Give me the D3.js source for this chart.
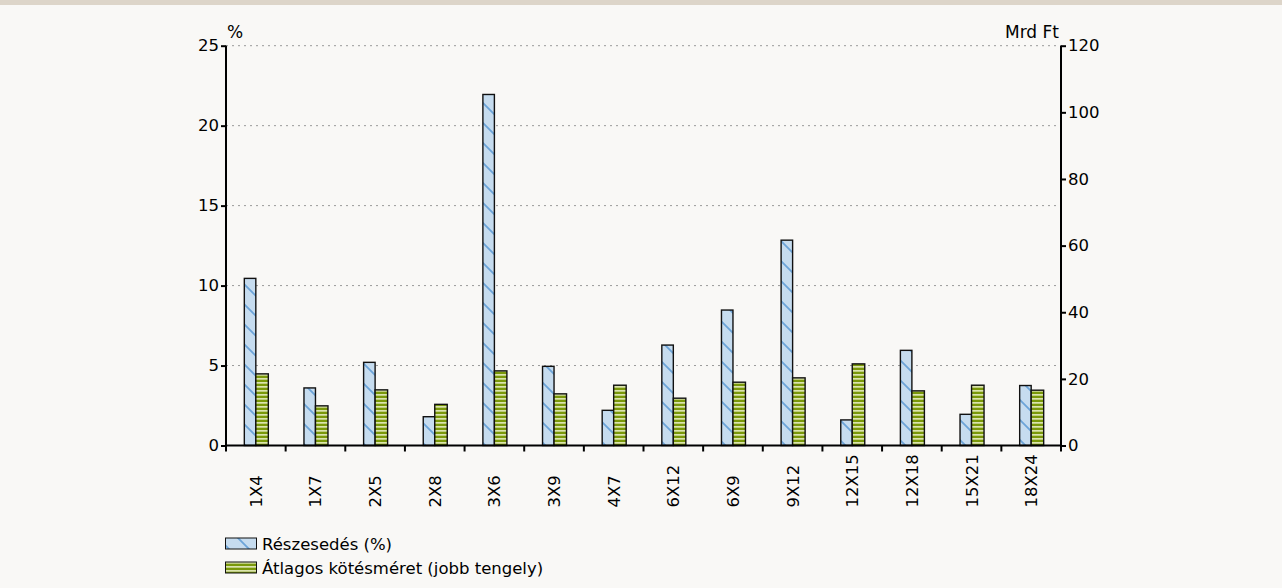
<!DOCTYPE html>
<html><head><meta charset="utf-8">
<script src="https://cdn.jsdelivr.net/npm/d3@7"></script>
<style>
html,body{margin:0;padding:0;background:#f9f8f6;}
svg{display:block;font-family:"DejaVu Sans",Verdana,sans-serif;}
</style></head>
<body>
<svg id="c" width="1282" height="588"></svg>
<script>
const categories = ["1X4","1X7","2X5","2X8","3X6","3X9","4X7","6X12","6X9","9X12","12X15","12X18","15X21","18X24"];
const shareValues = [10.45,3.6,5.2,1.8,21.95,4.95,2.2,6.28,8.47,12.84,1.6,5.95,1.95,3.75];
const sizeValues = [21.5,11.9,16.7,12.35,22.4,15.5,18.1,14.2,19.0,20.3,24.5,16.4,18.1,16.6];
const leftTicks = [0,5,10,15,20,25];
const rightTicks = [0,20,40,60,80,100,120];
const seriesNames = ["Részesedés (%)","Átlagos kötésméret (jobb tengely)"];
const leftUnit = "%";
const rightUnit = "Mrd Ft";

const svg = d3.select("#c");
const W = 1282, H = 588;
svg.append("rect").attr("width",W).attr("height",H).attr("fill","#f9f8f6");
svg.append("rect").attr("width",W).attr("height",5).attr("fill","#ddd5c9");

const defs = svg.append("defs");
const pb = defs.append("pattern").attr("id","pBlue").attr("patternUnits","userSpaceOnUse")
  .attr("width",20).attr("height",20);
pb.append("rect").attr("width",20).attr("height",20).attr("fill","#c6dcef");
pb.append("path").attr("d","M-5,-5 L25,25 M-5,15 L5,25 M15,-5 L25,5").attr("stroke","#6ca4d8").attr("stroke-width",1.8);
const pg = defs.append("pattern").attr("id","pGreen").attr("patternUnits","userSpaceOnUse")
  .attr("width",8).attr("height",4);
pg.append("rect").attr("width",8).attr("height",4).attr("fill","#7a980a");
pg.append("rect").attr("y",2).attr("width",8).attr("height",1.7).attr("fill","#dbe4ae");

const x0 = 226, x1 = 1061, yTop = 45.7, yBot = 445.5;
const x = d3.scaleBand().domain(categories).range([x0,x1]).padding(0);
const yL = d3.scaleLinear().domain([0,25]).range([yBot,yTop]);
const yR = d3.scaleLinear().domain([0,120]).range([yBot,yTop]);

// gridlines
svg.append("g").selectAll("line").data(leftTicks.filter(d=>d>0)).join("line")
  .attr("x1",x0).attr("x2",x1).attr("y1",d=>yL(d)).attr("y2",d=>yL(d))
  .attr("stroke","#999").attr("stroke-width",1).attr("stroke-dasharray","2,4");

const bw = 11.5;
const g = svg.append("g");
g.selectAll("rect.s").data(categories).join("rect").attr("class","s")
  .attr("x",d=>x(d)+x.bandwidth()/2-bw).attr("width",bw)
  .attr("y",(d,i)=>yL(shareValues[i])).attr("height",(d,i)=>yBot-yL(shareValues[i]))
  .attr("fill","url(#pBlue)").attr("stroke","#111").attr("stroke-width",1.4);
g.selectAll("rect.v").data(categories).join("rect").attr("class","v")
  .attr("x",d=>x(d)+x.bandwidth()/2).attr("width",bw+1)
  .attr("y",(d,i)=>yR(sizeValues[i])).attr("height",(d,i)=>yBot-yR(sizeValues[i]))
  .attr("fill","url(#pGreen)").attr("stroke","#111").attr("stroke-width",1.4);

const fs = "16.5px";
// left axis
const la = svg.append("g").attr("transform",`translate(${x0},0)`)
  .call(d3.axisLeft(yL).tickValues(leftTicks).tickSize(5).tickPadding(2));
la.select(".domain").attr("stroke","#000").attr("stroke-width",2).attr("d",`M0,${yTop}V${yBot}`);
la.selectAll(".tick line").attr("stroke","#000").attr("stroke-width",2);
la.selectAll("text").attr("font-size",fs).attr("fill","#000").attr("font-family","DejaVu Sans");
// right axis
const ra = svg.append("g").attr("transform",`translate(${x1},0)`)
  .call(d3.axisRight(yR).tickValues(rightTicks).tickSize(5).tickPadding(2));
ra.select(".domain").attr("stroke","#000").attr("stroke-width",2).attr("d",`M0,${yTop}V${yBot}`);
ra.selectAll(".tick line").attr("stroke","#000").attr("stroke-width",2);
ra.selectAll("text").attr("font-size",fs).attr("fill","#000").attr("font-family","DejaVu Sans");
// bottom axis
const ba = svg.append("g").attr("transform",`translate(0,${yBot})`);
ba.append("line").attr("x1",x0-1).attr("x2",x1+1).attr("y1",0).attr("y2",0).attr("stroke","#000").attr("stroke-width",2);
const bounds = categories.map(c=>x(c)).concat([x1]);
ba.selectAll("line.t").data(bounds).join("line").attr("class","t")
  .attr("x1",d=>d).attr("x2",d=>d).attr("y1",0).attr("y2",6).attr("stroke","#000").attr("stroke-width",2);
ba.selectAll("text").data(categories).join("text")
  .attr("transform",d=>`translate(${x(d)+x.bandwidth()/2+6},62) rotate(-90)`)
  .attr("text-anchor","start").attr("font-size",fs).attr("fill","#000").text(d=>d);

// units
svg.append("text").attr("x",227).attr("y",38).attr("font-size","17px").text(leftUnit);
svg.append("text").attr("x",1059).attr("y",38).attr("text-anchor","end").attr("font-size","17px").text(rightUnit);

// legend
const lg = svg.append("g");
const fills = ["url(#pBlue)","url(#pGreen)"];
seriesNames.forEach((n,i)=>{
  const yy = 538 + i*24;
  lg.append("rect").attr("x",225.5).attr("y",yy).attr("width",31).attr("height",11)
    .attr("fill",fills[i]).attr("stroke","#111").attr("stroke-width",1);
  lg.append("text").attr("x",262).attr("y",yy+12).attr("font-size",fs).attr("fill","#000").text(n);
});
</script>
</body></html>
